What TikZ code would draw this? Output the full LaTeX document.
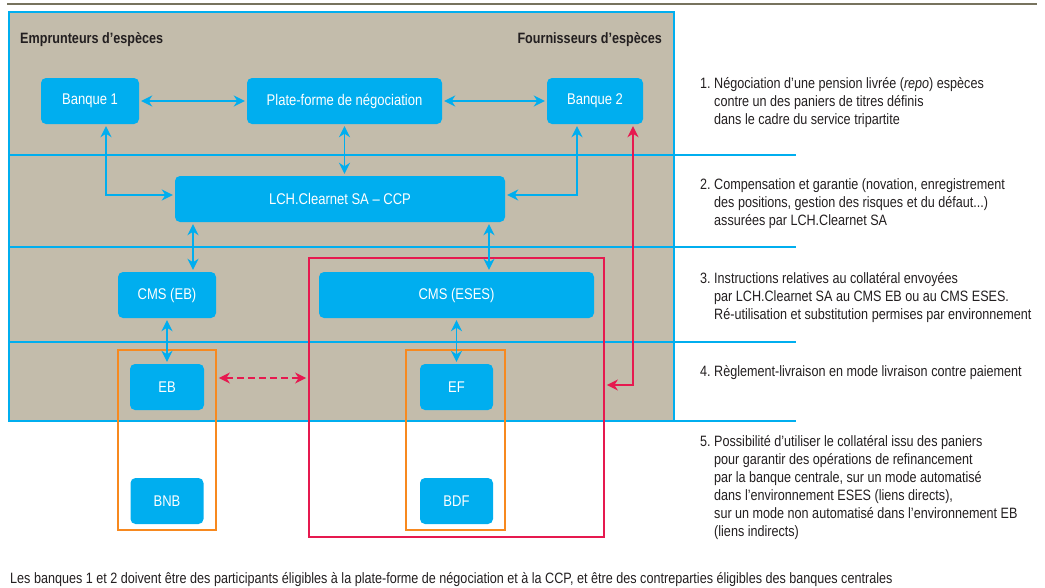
\documentclass[tikz,border=0pt]{standalone}
\usepackage{fontspec}
\setmainfont{Liberation Sans}[FakeStretch=0.84]
\usetikzlibrary{arrows.meta}

\definecolor{bdfblue}{HTML}{00AEEF}
\definecolor{bdfsand}{HTML}{C3BCAB}
\definecolor{bdfred}{HTML}{E6194F}
\definecolor{bdforange}{HTML}{F7891F}
\definecolor{bdfrule}{HTML}{77735E}
\definecolor{bdftext}{HTML}{231F20}

\begin{document}
\begin{tikzpicture}[x=1pt,y=-1pt]
\tikzset{
block/.style={rectangle,rounded corners=5pt,fill=bdfblue,text=white,minimum height=46pt,inner sep=0pt,font=\fontsize{15.5}{18}\selectfont,node distance=92pt},
zone/.style={rectangle,draw,line width=1.8pt,inner sep=0pt},
myarrow/.style={>={Stealth[length=11pt,width=11pt,inset=3.5pt]}, line width=1.8pt, shorten >=2pt, shorten <=2pt},
mydoublearrow/.style={myarrow,<->,bdfblue},
reddoublearrow/.style={myarrow,<->,bdfred},
dottedarrow/.style={myarrow,<->,bdfred,dash pattern=on 7pt off 4pt},
band/.style={bdfblue,line width=1.8pt},
mylabel/.style={anchor=base west,inner sep=0pt,text=bdftext,font=\fontsize{15}{18}\selectfont},
mytitle/.style={mylabel,font=\bfseries\fontsize{15}{18}\selectfont},
}
\useasboundingbox (0,0) rectangle (1045,587);

% background and bands
\draw[bdfrule,line width=1.5pt] (7,4) -- (1037,4);
\draw[band,fill=bdfsand] (9,12) rectangle (674,421);
\foreach \y in {155,247,342,421} \draw[band] (9,\y) -- (796,\y);

\node[mytitle] (borrowers) at (20,43) {Emprunteurs d’espèces};
\node[mytitle,anchor=base east] (lenders) at (662,43) {Fournisseurs d’espèces};

% zones
\node[zone,draw=bdforange,minimum width=98pt,minimum height=180pt] (ebzone) at (167,440) {};
\node[zone,draw=bdforange,minimum width=99pt,minimum height=180pt] (efzone) at (455.5,440) {};
\node[zone,draw=bdfred,minimum width=295pt,minimum height=279pt] (eszone) at (456.5,397.5) {};

% blocks
\node[block,minimum width=98pt] (banque1) at (90,101) {Banque 1};
\node[block,minimum width=195pt] (plateforme) at (344.5,101) {Plate-forme de négociation};
\node[block,minimum width=96pt] (banque2) at (595,101) {Banque 2};
\node[block,minimum width=330pt] (lch) at (340,199) {LCH.Clearnet SA -- CCP};
\node[block,minimum width=98pt] (cmseb) at (167,295) {CMS (EB)};
\node[block,minimum width=275pt] (cmses) at (456.5,295) {CMS (ESES)};
\node[block,minimum width=74pt,below of=cmseb] (eb) {EB};
\node[block,minimum width=73pt,below of=cmses] (ef) {EF};
\node[block,minimum width=73pt,below of=eb,node distance=114pt] (bnb) {BNB};
\node[block,minimum width=73pt,below of=ef,node distance=114pt] (bdf) {BDF};

\draw[mydoublearrow] (banque1) -- (plateforme);
\draw[mydoublearrow] (plateforme) -- (banque2);
\draw[mydoublearrow] (plateforme.south) -- (plateforme.south |- lch.north);
\draw[mydoublearrow] ([xshift=16pt]banque1.south) |- ([yshift=4pt]lch.west);
\draw[mydoublearrow] ([xshift=-18pt]banque2.south) |- ([yshift=4pt]lch.east);
\draw[mydoublearrow] ([xshift=26pt]cmseb.north) -- ([xshift=26pt]cmseb.north |- lch.south);
\draw[mydoublearrow] ([xshift=32.5pt]cmses.north) -- ([xshift=32.5pt]cmses.north |- lch.south);
\draw[mydoublearrow] (eb.north) -- (eb.north |- cmseb.south);
\draw[mydoublearrow] (ef.north) -- (ef.north |- cmses.south);
\draw[dottedarrow] ([yshift=62pt]ebzone.east) -- ([yshift=62pt]ebzone.east -| eszone.west);
\draw[reddoublearrow] ([yshift=12.5pt]eszone.east) -| ([xshift=38pt]banque2.south);

% notes
\node[mylabel] (note1) at (700,88) {\parbox[t]{400pt}{\hangindent=14pt\hangafter=1\makebox[14pt][l]{1.}Négociation d’une pension livrée (\emph{repo}) espèces\\contre un des paniers de titres définis\\dans le cadre du service tripartite}};
\node[mylabel] (note2) at (700,189) {\parbox[t]{400pt}{\hangindent=14pt\hangafter=1\makebox[14pt][l]{2.}Compensation et garantie (novation, enregistrement\\des positions, gestion des risques et du défaut...)\\assurées par LCH.Clearnet SA}};
\node[mylabel] (note3) at (700,283) {\parbox[t]{400pt}{\hangindent=14pt\hangafter=1\makebox[14pt][l]{3.}Instructions relatives au collatéral envoyées\\par LCH.Clearnet SA au CMS EB ou au CMS ESES.\\Ré-utilisation et substitution permises par environnement}};
\node[mylabel] (note4) at (700,376) {\makebox[14pt][l]{4.}Règlement-livraison en mode livraison contre paiement};
\node[mylabel] (note5) at (700,446) {\parbox[t]{400pt}{\hangindent=14pt\hangafter=1\makebox[14pt][l]{5.}Possibilité d’utiliser le collatéral issu des paniers\\pour garantir des opérations de refinancement\\par la banque centrale, sur un mode automatisé\\dans l’environnement ESES (liens directs),\\sur un mode non automatisé dans l’environnement EB\\(liens indirects)}};
\node[mylabel] (footnote) at (10,583) {Les banques 1 et 2 doivent être des participants éligibles à la plate-forme de négociation et à la CCP, et être des contreparties éligibles des banques centrales};
\end{tikzpicture}
\end{document}
